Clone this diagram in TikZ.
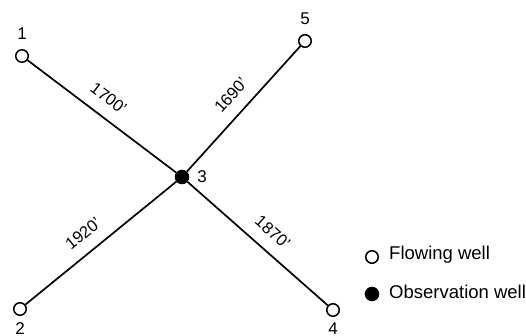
\documentclass[tikz,border=0pt]{standalone}
\usepackage{fontspec}
\setmainfont{Liberation Sans}
\usetikzlibrary{positioning}

\begin{document}
\begin{tikzpicture}[
    x=1pt, y=-1pt,
    flowing/.style={circle, draw, line width=1.5pt, fill=white, minimum size=12.5pt, inner sep=0pt},
    observation/.style={circle, draw, fill=black, line width=1pt, minimum size=13.5pt, inner sep=0pt},
    welllabel/.style={font=\fontsize{17}{17}\selectfont, inner sep=0pt},
    distlabel/.style={font=\fontsize{16.5}{16.5}\selectfont, inner sep=0pt, sloped, above=12pt},
    legendtext/.style={font=\fontsize{18.5}{19}\selectfont, inner sep=0pt, anchor=west},
    pipe/.style={line width=1.7pt},
]
\useasboundingbox (0,0) rectangle (526,336);

% wells
\node[flowing, label={[welllabel, label distance=9pt]above:1}] (w1) at (22,56) {};
\node[flowing, label={[welllabel, label distance=6pt]below:2}] (w2) at (20,309) {};
\node[observation, label={[welllabel, label distance=8pt]right:3}] (w3) at (182,177) {};
\node[flowing, label={[welllabel, label distance=6pt]below:4}] (w4) at (333,310) {};
\node[flowing, label={[welllabel, label distance=9pt]above:5}] (w5) at (305,41) {};

% distances
\draw[pipe] (w1) -- node[distlabel, pos=0.47] (d13) {1700'} (w3);
\draw[pipe] (w2) -- node[distlabel, pos=0.46] (d23) {1920'} (w3);
\draw[pipe] (w3) -- node[distlabel, pos=0.52] (d34) {1870'} (w4);
\draw[pipe] (w3) -- node[distlabel, pos=0.51] (d35) {1690'} (w5);

% legend
\node[flowing] (lgflow) at (372,257) {};
\node[legendtext] (lgflowtxt) at (389,255) {Flowing well};
\node[observation] (lgobs) at (372,294) {};
\node[legendtext] (lgobstxt) at (389,292) {Observation well};

\end{tikzpicture}
\end{document}
